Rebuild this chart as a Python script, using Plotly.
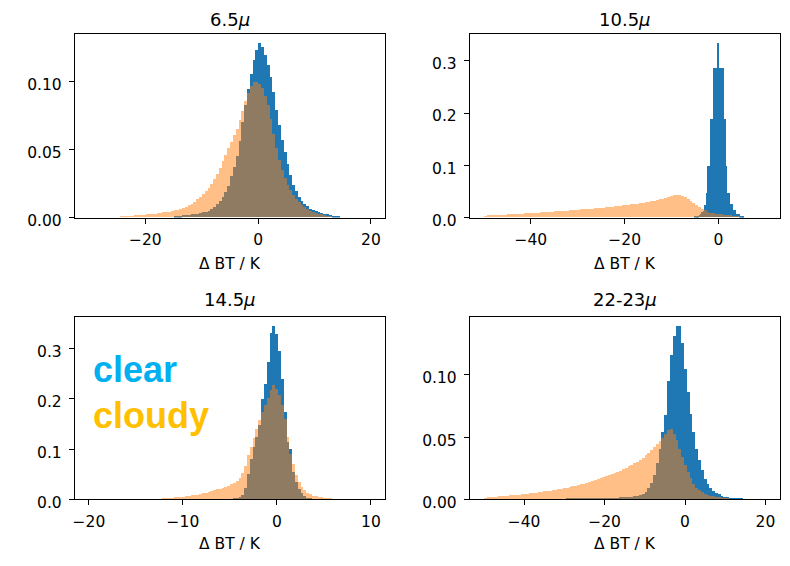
import plotly.graph_objects as go

# ---------------- data ----------------
titles = ["6.5<i>μ</i>", "10.5<i>μ</i>", "14.5<i>μ</i>", "22-23<i>μ</i>"]
x_label = "Δ BT / K"
# histogram range used for each panel (sets the axis extent, as in matplotlib)
hist_ranges = [(-30, 20), (-50, 10), (-20, 10), (-50, 20)]

x_tick_vals = [[-20, 0, 20], [-40, -20, 0], [-20, -10, 0, 10], [-40, -20, 0, 20]]
x_tick_text = [["−20", "0", "20"], ["−40", "−20", "0"],
               ["−20", "−10", "0", "10"], ["−40", "−20", "0", "20"]]
y_tick_vals = [[0, 0.05, 0.10], [0, 0.1, 0.2, 0.3], [0, 0.1, 0.2, 0.3], [0, 0.05, 0.10]]
y_tick_text = [["0.00", "0.05", "0.10"], ["0.0", "0.1", "0.2", "0.3"],
               ["0.0", "0.1", "0.2", "0.3"], ["0.00", "0.05", "0.10"]]

# 6.5 micron
clear_65_first_edge, clear_65_bin = -15.0, 0.5
clear_65 = [0.0008, 0.0010, 0.0013, 0.0015, 0.0017, 0.0019, 0.0022, 0.0025, 0.0028, 0.0032,
            0.0036, 0.0042, 0.0050, 0.0063, 0.0078, 0.0098, 0.0120, 0.0148, 0.0185, 0.0230,
            0.0300, 0.0370, 0.0450, 0.0560, 0.0700, 0.0820, 0.0940, 0.1050, 0.1150, 0.1230,
            0.1280, 0.1250, 0.1190, 0.1120, 0.1030, 0.0920, 0.0790, 0.0680, 0.0570, 0.0480,
            0.0390, 0.0310, 0.0240, 0.0190, 0.0150, 0.0120, 0.0100, 0.0080, 0.0064, 0.0052,
            0.0043, 0.0036, 0.0030, 0.0025, 0.0021, 0.0017, 0.0013, 0.0009, 0.0005]
cloudy_65_first_edge, cloudy_65_bin = -25.0, 0.5
cloudy_65 = [0.0006, 0.0007, 0.0008, 0.0009, 0.0011, 0.0012, 0.0014, 0.0016, 0.0018, 0.0020,
             0.0021, 0.0023, 0.0025, 0.0027, 0.0030, 0.0033, 0.0036, 0.0039, 0.0042, 0.0046,
             0.0051, 0.0056, 0.0062, 0.0069, 0.0077, 0.0087, 0.0100, 0.0115, 0.0132, 0.0150,
             0.0170, 0.0192, 0.0215, 0.0245, 0.0280, 0.0315, 0.0360, 0.0410, 0.0460, 0.0510,
             0.0555, 0.0600, 0.0650, 0.0710, 0.0780, 0.0850, 0.0910, 0.0960, 0.0995, 0.0995,
             0.0980, 0.0950, 0.0890, 0.0820, 0.0720, 0.0610, 0.0510, 0.0420, 0.0350, 0.0290,
             0.0240, 0.0200, 0.0165, 0.0135, 0.0110, 0.0090, 0.0073, 0.0059, 0.0048, 0.0039,
             0.0032, 0.0026, 0.0021, 0.0017, 0.0013, 0.0009]

# 10.5 micron
clear_105_first_edge, clear_105_bin = -5.1, 0.3
clear_105 = [0.0015, 0.0020, 0.0030, 0.0040, 0.0060, 0.0100, 0.0120, 0.0230, 0.0460, 0.0990,
             0.0990, 0.1890, 0.1890, 0.2860, 0.2860, 0.2860, 0.3340, 0.2860, 0.2860, 0.2860,
             0.2860, 0.1890, 0.0990, 0.0470, 0.0470, 0.0260, 0.0260, 0.0140, 0.0140, 0.0070,
             0.0070, 0.0070, 0.0030, 0.0030, 0.0020]
cloudy_105_first_edge, cloudy_105_bin = -50.0, 0.6
cloudy_105 = [0.0035, 0.0038, 0.0040, 0.0043, 0.0045, 0.0048, 0.0051, 0.0054, 0.0057, 0.0060,
              0.0063, 0.0067, 0.0070, 0.0073, 0.0076, 0.0079, 0.0082, 0.0086, 0.0089, 0.0092,
              0.0095, 0.0099, 0.0102, 0.0106, 0.0110, 0.0114, 0.0118, 0.0122, 0.0126, 0.0130,
              0.0134, 0.0138, 0.0142, 0.0146, 0.0150, 0.0155, 0.0159, 0.0164, 0.0168, 0.0173,
              0.0178, 0.0183, 0.0188, 0.0193, 0.0198, 0.0204, 0.0210, 0.0216, 0.0222, 0.0228,
              0.0235, 0.0242, 0.0249, 0.0256, 0.0264, 0.0272, 0.0281, 0.0290, 0.0300, 0.0310,
              0.0321, 0.0333, 0.0346, 0.0360, 0.0375, 0.0390, 0.0405, 0.0420, 0.0432, 0.0428,
              0.0410, 0.0385, 0.0355, 0.0320, 0.0280, 0.0240, 0.0200, 0.0165, 0.0135, 0.0110,
              0.0092, 0.0080, 0.0070, 0.0062, 0.0055, 0.0048, 0.0042, 0.0036, 0.0030, 0.0024,
              0.0018, 0.0012, 0.0006]

# 14.5 micron
clear_145_first_edge, clear_145_bin = -5.0, 0.3
clear_145 = [0.0010, 0.0015, 0.0025, 0.0045, 0.0100, 0.0230, 0.0520, 0.0800, 0.1050, 0.1250,
             0.1480, 0.2000, 0.2300, 0.2730, 0.3320, 0.3460, 0.3300, 0.2950, 0.2400, 0.1750,
             0.1150, 0.1000, 0.0550, 0.0350, 0.0220, 0.0130, 0.0080, 0.0040, 0.0020, 0.0010]
cloudy_145_first_edge, cloudy_145_bin = -14.0, 0.3
cloudy_145 = [0.0010, 0.0011, 0.0013, 0.0015, 0.0017, 0.0020, 0.0023, 0.0027, 0.0032, 0.0038, 0.0044,
              0.0050, 0.0055, 0.0061, 0.0068, 0.0075, 0.0083, 0.0092, 0.0102, 0.0112, 0.0123, 0.0135,
              0.0150, 0.0167, 0.0185, 0.0203, 0.0220, 0.0237, 0.0255, 0.0280, 0.0305, 0.0335, 0.0380,
              0.0440, 0.0530, 0.0660, 0.0880, 0.1050, 0.1220, 0.1400, 0.1580, 0.1740, 0.1880, 0.2020,
              0.2180, 0.2280, 0.2200, 0.2080, 0.1880, 0.1600, 0.1250, 0.0900, 0.0700, 0.0500, 0.0360,
              0.0260, 0.0190, 0.0140, 0.0105, 0.0080, 0.0064, 0.0052, 0.0043, 0.0036, 0.0030, 0.0025,
              0.0021, 0.0018, 0.0015, 0.0012, 0.0009]

# 22-23 micron
clear_2223_first_edge, clear_2223_bin = -29.7, 0.7
clear_2223 = [0.0006, 0.0006, 0.0007, 0.0007, 0.0008, 0.0008, 0.0009, 0.0009, 0.0010, 0.0010,
              0.0011, 0.0011, 0.0012, 0.0012, 0.0013, 0.0014, 0.0015, 0.0016, 0.0017, 0.0018,
              0.0019, 0.0020, 0.0022, 0.0024, 0.0027, 0.0030, 0.0036, 0.0045, 0.0060, 0.0090,
              0.0135, 0.0200, 0.0290, 0.0410, 0.0540, 0.0680, 0.0950, 0.1160, 0.1310, 0.1390,
              0.1395, 0.1260, 0.1050, 0.0860, 0.0690, 0.0540, 0.0410, 0.0320, 0.0240, 0.0165,
              0.0125, 0.0095, 0.0070, 0.0054, 0.0042, 0.0032, 0.0025, 0.0020, 0.0016, 0.0013,
              0.0010, 0.0008, 0.0006, 0.0004]
cloudy_2223_first_edge, cloudy_2223_bin = -50.0, 0.7
cloudy_2223 = [0.0016, 0.0018, 0.0020, 0.0022, 0.0024, 0.0026, 0.0028, 0.0030, 0.0032, 0.0034,
               0.0036, 0.0038, 0.0040, 0.0042, 0.0045, 0.0048, 0.0051, 0.0054, 0.0057, 0.0060,
               0.0063, 0.0066, 0.0069, 0.0072, 0.0075, 0.0079, 0.0083, 0.0087, 0.0091, 0.0096,
               0.0101, 0.0106, 0.0111, 0.0116, 0.0122, 0.0128, 0.0134, 0.0141, 0.0148, 0.0155,
               0.0163, 0.0171, 0.0179, 0.0187, 0.0196, 0.0205, 0.0214, 0.0223, 0.0232, 0.0242,
               0.0255, 0.0266, 0.0278, 0.0291, 0.0305, 0.0320, 0.0338, 0.0357, 0.0378, 0.0400,
               0.0420, 0.0443, 0.0468, 0.0495, 0.0530, 0.0555, 0.0565, 0.0530, 0.0480, 0.0410,
               0.0340, 0.0275, 0.0220, 0.0170, 0.0125, 0.0095, 0.0075, 0.0060, 0.0048, 0.0039,
               0.0032, 0.0027, 0.0023, 0.0019, 0.0016, 0.0013, 0.0010, 0.0006]

clear_series = [(clear_65_first_edge, clear_65_bin, clear_65),
                (clear_105_first_edge, clear_105_bin, clear_105),
                (clear_145_first_edge, clear_145_bin, clear_145),
                (clear_2223_first_edge, clear_2223_bin, clear_2223)]
cloudy_series = [(cloudy_65_first_edge, cloudy_65_bin, cloudy_65),
                 (cloudy_105_first_edge, cloudy_105_bin, cloudy_105),
                 (cloudy_145_first_edge, cloudy_145_bin, cloudy_145),
                 (cloudy_2223_first_edge, cloudy_2223_bin, cloudy_2223)]

# ---------------- layout geometry / styles ----------------
W, H = 790, 566
x_domains = [[73 / W, 384 / W], [469 / W, 779.5 / W], [73 / W, 384 / W], [469 / W, 779.5 / W]]
y_domains = [[1 - 222.3 / H, 1 - 35 / H], [1 - 222.3 / H, 1 - 35 / H],
             [1 - 510.3 / H, 1 - 323.7 / H], [1 - 510.3 / H, 1 - 323.7 / H]]
title_center_px = [20, 20, 306, 306]
xlabel_center_px = [270, 270, 556, 556]

BLUE = "#1f77b4"
ORANGE = "rgba(255,127,14,0.5)"
FONT = "DejaVu Sans"
TICK_SIZE = 15.5
TITLE_SIZE = 18

fig = go.Figure()
annotations = []
layout_axes = {}

for i in range(4):
    xa = "x" if i == 0 else f"x{i + 1}"
    ya = "y" if i == 0 else f"y{i + 1}"
    for (first_edge, bw, vals), color in ((clear_series[i], BLUE), (cloudy_series[i], ORANGE)):
        centers = [first_edge + bw * (j + 0.5) for j in range(len(vals))]
        fig.add_trace(go.Bar(x=centers, y=vals, width=bw, xaxis=xa, yaxis=ya,
                             marker=dict(color=color, line=dict(width=0)),
                             showlegend=False, hoverinfo="skip"))
    lo, hi = hist_ranges[i]
    pad = 0.05 * (hi - lo)
    ymax = 1.05 * max(max(clear_series[i][2]), max(cloudy_series[i][2]))
    axis_common = dict(showline=True, linecolor="black", linewidth=1, mirror=True,
                       ticks="outside", ticklen=5, tickwidth=1, tickcolor="black",
                       showgrid=False, zeroline=False,
                       tickfont=dict(family=FONT, size=TICK_SIZE, color="black"))
    layout_axes["xaxis" if i == 0 else f"xaxis{i + 1}"] = dict(
        domain=x_domains[i], anchor=ya, range=[lo - pad, hi + pad], ticklabelstandoff=3,
        tickmode="array", tickvals=x_tick_vals[i], ticktext=x_tick_text[i], **axis_common)
    layout_axes["yaxis" if i == 0 else f"yaxis{i + 1}"] = dict(
        domain=y_domains[i], anchor=xa, range=[0, ymax], ticklabelstandoff=4,
        ticklabelshift=3,
        tickmode="array", tickvals=y_tick_vals[i], ticktext=y_tick_text[i], **axis_common)
    xc = (x_domains[i][0] + x_domains[i][1]) / 2
    annotations.append(dict(text=titles[i], x=xc, y=1 - title_center_px[i] / H,
                            xref="paper", yref="paper", xanchor="center", yanchor="middle",
                            showarrow=False, font=dict(family=FONT, size=TITLE_SIZE, color="black")))
    annotations.append(dict(text=x_label, x=xc, y=1 - xlabel_center_px[i] / H,
                            xref="paper", yref="paper", xanchor="center", yanchor="middle",
                            showarrow=False, font=dict(family=FONT, size=TICK_SIZE, color="black")))

annotations.append(dict(text="<b>clear</b>", x=89 / W, y=1 - 378 / H, xref="paper", yref="paper",
                        xanchor="left", yanchor="middle", showarrow=False,
                        font=dict(family="Liberation Sans", size=36, color="#00B0F0")))
annotations.append(dict(text="<b>cloudy</b>", x=89 / W, y=1 - 424 / H, xref="paper", yref="paper",
                        xanchor="left", yanchor="middle", showarrow=False,
                        font=dict(family="Liberation Sans", size=36, color="#FFC000")))

fig.update_layout(width=W, height=H, margin=dict(l=0, r=0, t=0, b=0),
                  paper_bgcolor="white", plot_bgcolor="white",
                  barmode="overlay", bargap=0, showlegend=False,
                  annotations=annotations, **layout_axes)

fig.write_html("out.html")
